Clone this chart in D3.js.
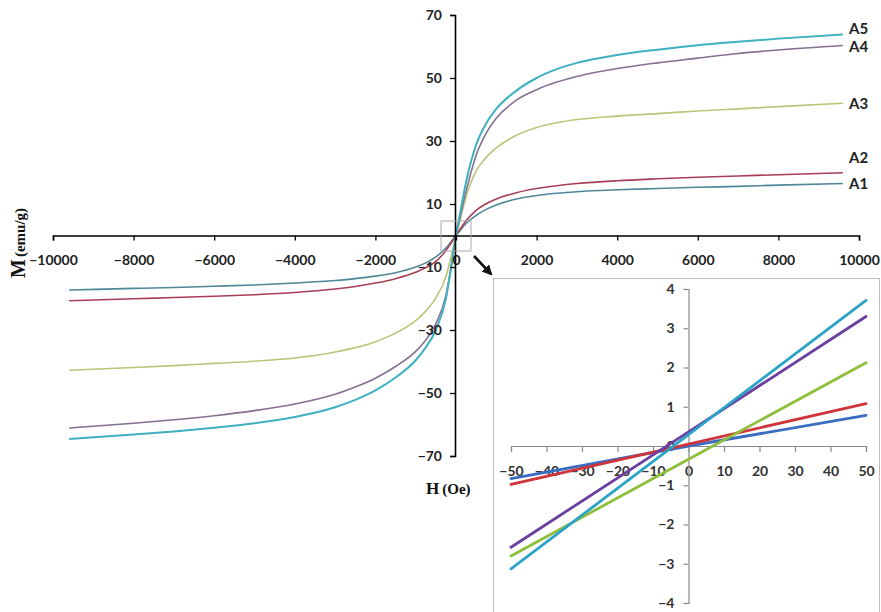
<!DOCTYPE html>
<html>
<head>
<meta charset="utf-8">
<script src="https://cdn.jsdelivr.net/npm/d3@7"></script>
<style>
html,body{margin:0;padding:0;background:#fff;}
svg{display:block;}
</style>
</head>
<body>
<svg id="chart" width="881" height="612"></svg>
<script>
// ---------- DATA (main chart) ----------
const seriesNames = ["A1", "A2", "A3", "A4", "A5"];
const fieldH = [-9600, -8000, -7000, -6000, -5000, -4000, -3000, -2500, -2000, -1500, -1000, -750, -500, -250, -100, 0,
                100, 250, 500, 750, 1000, 1500, 2000, 2500, 3000, 4000, 5000, 6000, 7000, 8000, 9600];
const magA1 = [-17.3, -16.8, -16.5, -16.1, -15.7, -15.1, -14.3, -13.7, -12.9, -11.8, -10.0, -8.7, -6.8, -4.0, -1.6, 0,
               1.6, 3.8, 6.4, 8.3, 9.7, 11.6, 12.7, 13.4, 13.9, 14.5, 14.9, 15.3, 15.6, 16.0, 16.5];
const magA2 = [-20.7, -20.1, -19.7, -19.3, -18.8, -18.1, -17.0, -16.2, -15.1, -13.7, -11.7, -10.2, -8.2, -4.8, -2.0, 0,
               2.0, 4.7, 8.0, 10.1, 11.6, 13.6, 14.9, 15.8, 16.5, 17.4, 18.0, 18.5, 18.9, 19.3, 19.9];
const magA3 = [-42.8, -41.9, -41.3, -40.6, -39.9, -38.9, -37.0, -35.6, -33.7, -31.0, -27.0, -24.0, -19.8, -13.0, -5.5, 0,
               4.8, 12.3, 20.5, 24.8, 27.8, 31.8, 34.3, 35.8, 36.8, 37.9, 38.7, 39.5, 40.2, 40.9, 42.0];
const magA4 = [-61.1, -59.6, -58.5, -57.2, -55.6, -53.5, -50.4, -48.1, -45.3, -41.6, -36.8, -33.2, -28.0, -19.0, -8.3, 0,
               5.8, 14.0, 25.5, 32.5, 37.2, 43.0, 46.3, 48.7, 50.5, 53.0, 54.8, 56.3, 57.8, 58.9, 60.3];
const magA5 = [-64.6, -63.2, -62.2, -61.0, -59.6, -57.6, -54.5, -52.2, -49.2, -45.1, -39.6, -35.5, -30.0, -20.0, -8.5, 0,
               7.0, 17.0, 28.8, 35.6, 40.2, 46.0, 50.0, 52.8, 54.8, 57.3, 59.0, 60.4, 61.5, 62.5, 63.8];
const mainColors = ["#4f8799", "#a63f55", "#bcc47a", "#85708f", "#3eb0bf"];
const xTicksMain = [-10000, -8000, -6000, -4000, -2000, 0, 2000, 4000, 6000, 8000, 10000];
const yTicksMain = [-70, -50, -30, -10, 10, 30, 50, 70];

// ---------- DATA (inset) ----------
const insetH = [-50, 0, 50];
const insetA1 = [-0.83, 0.0, 0.78];
const insetA2 = [-0.98, 0.05, 1.08];
const insetA3 = [-2.80, -0.34, 2.12];
const insetA4 = [-2.58, 0.36, 3.30];
const insetA5 = [-3.13, 0.29, 3.71];
const insetColors = ["#3a6cc0", "#d0333a", "#8fbf3a", "#6a3fa0", "#2aa3c6"];
const xTicksInset = [-50, -40, -30, -20, -10, 0, 10, 20, 30, 40, 50];
const yTicksInset = [-4, -3, -2, -1, 0, 1, 2, 3, 4];

const svg = d3.select("#chart");
const FONT = "Lato, 'Open Sans', sans-serif";
const SERIF = "'Liberation Serif', 'DejaVu Serif', serif";

// ---------- MAIN CHART ----------
const x = d3.scaleLinear().domain([-10000, 10000]).range([53, 859]);
const y = d3.scaleLinear().domain([-70, 70]).range([456, 15]);

const mainSeries = [magA1, magA2, magA3, magA4, magA5];
const line = d3.line().x((d, i) => x(fieldH[i])).y(d => y(d)).curve(d3.curveMonotoneX);

svg.append("g").selectAll("path").data(mainSeries).join("path")
  .attr("d", d => line(d))
  .attr("fill", "none")
  .attr("stroke", (d, i) => mainColors[i])
  .attr("stroke-width", (d, i) => i === 4 ? 2 : 1.6);

// x axis
const gx = svg.append("g")
  .attr("transform", `translate(0,${y(0)})`)
  .call(d3.axisBottom(x).tickValues(xTicksMain).tickSize(5).tickPadding(15).tickFormat(d3.format("d")));
gx.select(".domain").attr("stroke", "#000").attr("stroke-width", 1.6);
gx.selectAll(".tick line").attr("stroke", "#000").attr("stroke-width", 1.3);
gx.selectAll("text").attr("font-family", FONT).attr("font-size", 14).attr("font-weight", "bold").attr("fill", "#222");

// y axis
const gy = svg.append("g")
  .attr("transform", `translate(${x(0) - 1},0)`)
  .call(d3.axisLeft(y).tickValues(yTicksMain).tickSize(5).tickPadding(8).tickFormat(d3.format("d")));
gy.select(".domain").attr("stroke", "#000").attr("stroke-width", 1.6);
gy.selectAll(".tick line").attr("stroke", "#000").attr("stroke-width", 1.3);
gy.selectAll("text").attr("font-family", FONT).attr("font-size", 14).attr("font-weight", "bold").attr("fill", "#222");

// series labels at the right
const labelOffsets = [5, -10, 6, 6, -1];
svg.append("g").selectAll("text").data(seriesNames).join("text")
  .attr("x", 849)
  .attr("y", (d, i) => y(mainSeries[i][mainSeries[i].length - 1]) + labelOffsets[i])
  .attr("font-family", FONT).attr("font-size", 15).attr("font-weight", "bold").attr("fill", "#222")
  .text(d => d);

// axis titles
const yt = svg.append("text")
  .attr("transform", "translate(25,278) rotate(-90)")
  .attr("font-family", SERIF).attr("font-weight", "bold").attr("fill", "#111");
yt.append("tspan").attr("font-size", 20).text("M");
yt.append("tspan").attr("font-size", 15).attr("dx", 2).text("(emu/g)");

const xt = svg.append("text")
  .attr("x", 426).attr("y", 494)
  .attr("font-family", SERIF).attr("font-weight", "bold").attr("fill", "#111");
xt.append("tspan").attr("font-size", 17).text("H");
xt.append("tspan").attr("font-size", 15).attr("dx", 3).text("(Oe)");

// small zoom box at origin
svg.append("rect").attr("x", 441).attr("y", 221).attr("width", 30).attr("height", 30)
  .attr("fill", "none").attr("stroke", "#aaa").attr("stroke-width", 1);

// arrow
svg.append("defs").append("marker").attr("id", "ah")
  .attr("viewBox", "0 0 10 10").attr("refX", 8).attr("refY", 5)
  .attr("markerWidth", 4).attr("markerHeight", 4).attr("orient", "auto")
  .append("path").attr("d", "M0,0 L10,5 L0,10 z").attr("fill", "#111");
svg.append("line").attr("x1", 474).attr("y1", 256).attr("x2", 491).attr("y2", 274)
  .attr("stroke", "#111").attr("stroke-width", 2.6).attr("marker-end", "url(#ah)");

// ---------- INSET ----------
svg.append("rect").attr("x", 493.5).attr("y", 278.5).attr("width", 386).attr("height", 340)
  .attr("fill", "#fff").attr("stroke", "#bbb").attr("stroke-width", 1);

const xi = d3.scaleLinear().domain([-50, 50]).range([511, 866]);
const yi = d3.scaleLinear().domain([-4, 4]).range([603, 289]);

const gxi = svg.append("g")
  .attr("transform", `translate(0,${yi(0)})`)
  .call(d3.axisBottom(xi).tickValues(xTicksInset).tickSize(6).tickPadding(14).tickFormat(d3.format("d")));
gxi.select(".domain").attr("stroke", "#8a8a8a").attr("stroke-width", 1.2);
gxi.selectAll(".tick line").attr("stroke", "#8a8a8a").attr("stroke-width", 1.2);
gxi.selectAll("text").attr("font-family", FONT).attr("font-size", 14).attr("font-weight", "bold").attr("fill", "#333");

const gyi = svg.append("g")
  .attr("transform", `translate(${xi(0)},0)`)
  .call(d3.axisLeft(yi).tickValues(yTicksInset).tickSize(5).tickPadding(9).tickFormat(d3.format("d")));
gyi.select(".domain").attr("stroke", "#8a8a8a").attr("stroke-width", 1.2);
gyi.selectAll(".tick line").attr("stroke", "#8a8a8a").attr("stroke-width", 1.2);
gyi.selectAll("text").attr("font-family", FONT).attr("font-size", 14).attr("font-weight", "bold").attr("fill", "#333");

const insetSeries = [insetA1, insetA2, insetA3, insetA4, insetA5];
const lineI = d3.line().x((d, i) => xi(insetH[i])).y(d => yi(d));
svg.append("g").selectAll("path").data(insetSeries).join("path")
  .attr("d", d => lineI(d))
  .attr("fill", "none")
  .attr("stroke", (d, i) => insetColors[i])
  .attr("stroke-width", 2.8)
  .attr("stroke-linecap", "round");
</script>
</body>
</html>
